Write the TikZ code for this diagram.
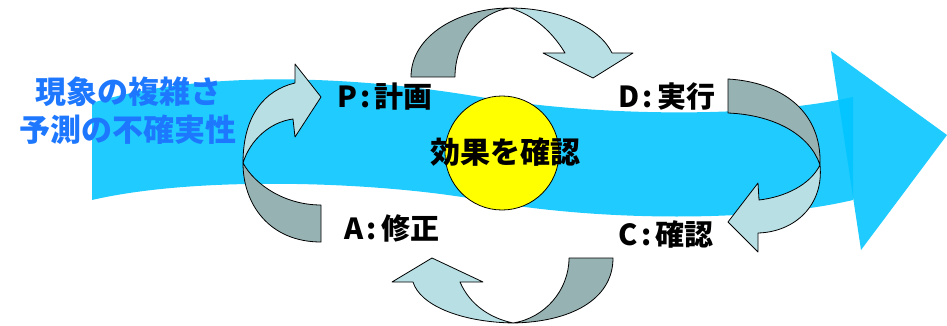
\documentclass[tikz,border=0pt]{standalone}
\usepackage{fontspec}
\newfontfamily\jp{Noto Sans CJK JP}
\definecolor{bandblue}{RGB}{0,196,255}
\definecolor{txtblue}{RGB}{30,120,255}
\definecolor{arrdark}{RGB}{150,178,178}
\definecolor{arrlight}{RGB}{184,224,228}
\definecolor{ballyellow}{RGB}{255,255,0}
\tikzset{
  band/.style={fill=bandblue, fill opacity=0.88, draw=none},
  darkpart/.style={fill=arrdark, draw=black, line width=0.8pt, line join=round},
  lightpart/.style={fill=arrlight, draw=black, line width=0.8pt, line join=round},
  pdca/.style={font=\jp\bfseries\fontsize{29}{32}\selectfont, text=black, inner sep=0pt},
  bluetxt/.style={font=\jp\bfseries\fontsize{31}{34}\selectfont, text=txtblue, inner sep=0pt},
}
\begin{document}
\begin{tikzpicture}[x=1pt,y=-1pt]
\useasboundingbox (0,0) rectangle (947,326);
% big flowing band
\path[band] (92,103) .. controls (200,70) and (350,75) .. (480,97)
  .. controls (600,117) and (760,118) .. (853,97) -- (853,200)
  .. controls (760,222) and (600,222) .. (480,200)
  .. controls (380,182) and (200,175) .. (92,200) -- cycle;
% arrow head
\path[band] (831,51) -- (947,135) -- (861,250) -- cycle;
% left curved arrow (A -> P)
\path[darkpart] (321,242) .. controls (270,242) and (243,205) .. (243,163)
  .. controls (255,185) and (285,205) .. (321,205) -- cycle;
\path[lightpart] (243,163) .. controls (243,115) and (265,90) .. (295,83)
  -- (295,64) -- (321,97) -- (295,137) -- (293,119)
  .. controls (270,122) and (250,140) .. (243,163) -- cycle;
% top curved arrow (P -> D)
\path[darkpart] (411,77) .. controls (411,35) and (460,8) .. (510,8)
  .. controls (480,12) and (455,40) .. (455,77) -- cycle;
\path[lightpart] (510,8) .. controls (560,8) and (600,28) .. (612,53)
  -- (633,53) -- (593,78) -- (543,53) -- (565,53)
  .. controls (550,28) and (530,14) .. (510,8) -- cycle;
% right curved arrow (D -> C)
\path[darkpart] (728,79) .. controls (780,82) and (822,110) .. (820,165)
  .. controls (810,135) and (775,115) .. (728,113) -- cycle;
\path[lightpart] (820,165) .. controls (824,205) and (795,232) .. (758,233)
  -- (758,252) -- (728,222) -- (758,183) -- (759,200)
  .. controls (785,197) and (810,185) .. (820,165) -- cycle;
% bottom curved arrow (C -> A)
\path[darkpart] (613,258) .. controls (613,300) and (570,322) .. (513,323)
  .. controls (545,318) and (569,290) .. (569,258) -- cycle;
\path[lightpart] (513,323) .. controls (460,322) and (420,305) .. (413,282)
  -- (392,282) -- (432,258) -- (483,282) -- (460,282)
  .. controls (470,305) and (490,318) .. (513,323) -- cycle;
% centre circle
\node[circle, draw=black, line width=0.8pt, fill=ballyellow, minimum size=114pt, inner sep=0pt] (ball) at (502,153) {};
\node[font=\jp\bfseries\fontsize{30}{33}\selectfont, inner sep=0pt] (check) at (505,152) {効果を確認};
% labels
\node[pdca] (P) at (385,97) {P\hspace{3pt}:\hspace{4pt}計画};
\node[pdca] (D) at (667,97) {D\hspace{3pt}:\hspace{4pt}実行};
\node[pdca] (A) at (392,228) {A\hspace{3pt}:\hspace{4pt}修正};
\node[pdca] (C) at (666,234) {C\hspace{3pt}:\hspace{4pt}確認};
% left blue text
\node[bluetxt] (t1) at (128,92) {現象の複雑さ};
\node[bluetxt] (t2) at (128,130) {予測の不確実性};
\end{tikzpicture}
\end{document}
